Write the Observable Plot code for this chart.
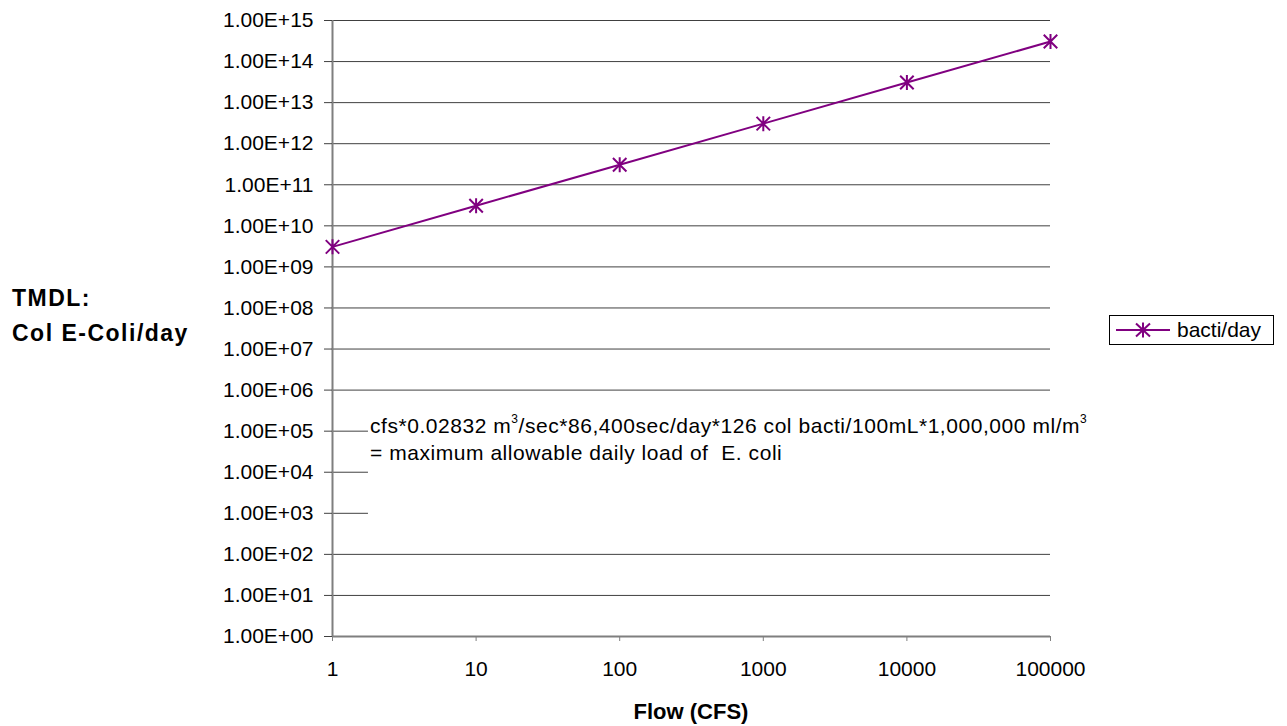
<!DOCTYPE html>
<html><head><meta charset="utf-8">
<script src="https://cdn.jsdelivr.net/npm/d3@7"></script>
<script src="https://cdn.jsdelivr.net/npm/@observablehq/plot@0.6"></script>
<style>
body{margin:0;background:#fff;font-family:"Liberation Sans",Arial,sans-serif;}
#wrap{position:relative;width:1287px;height:726px;overflow:hidden;}
#wrap svg.plot{position:absolute;left:0;top:0;}
.ov{position:absolute;color:#000;white-space:nowrap;}
#ytitle{left:12px;top:281px;font-weight:bold;font-size:23px;line-height:35px;letter-spacing:1.5px;}
#xtitle{left:541px;width:300px;text-align:center;top:699px;font-weight:bold;font-size:22px;line-height:26px;}
#note{font-size:21px;line-height:27px;letter-spacing:0.55px;}
#note sup{font-size:12px;vertical-align:10px;line-height:0;}
#legend{left:1109px;top:315px;width:163px;height:28px;border:1px solid #000;background:#fff;font-size:21px;}
#legend svg{position:absolute;left:6px;top:6px;}
#legend span{position:absolute;left:67px;top:2px;}
</style></head><body>
<div id="wrap"></div>
<script>
const flowCfs = [1, 10, 100, 1000, 10000, 100000];
const bactiPerDay = [3.08e9, 3.08e10, 3.08e11, 3.08e12, 3.08e13, 3.08e14];
const yTicks = [1e0,1e1,1e2,1e3,1e4,1e5,1e6,1e7,1e8,1e9,1e10,1e11,1e12,1e13,1e14,1e15];
const xTicks = [1, 10, 100, 1000, 10000, 100000];
const seriesName = "bacti/day";
const yTitleLines = ["TMDL:", "Col E-Coli/day"];
const xTitle = "Flow (CFS)";
const noteLine1 = 'cfs*0.02832 m<sup>3</sup>/sec*86,400sec/day*126 col bacti/100mL*1,000,000 ml/m<sup>3</sup>';
const noteLine2 = '= maximum allowable daily load of&nbsp; E. coli';
const noteBox = {x1: 1.78, x2: 100000, y1: Math.pow(10, 2.6), y2: Math.pow(10, 5.5)};

const color = "#800080";
const data = flowCfs.map((f, i) => ({flow: f, load: bactiPerDay[i]}));

const starSymbol = {
  draw(ctx, size) {
    const r = Math.sqrt(size / Math.PI);
    const k = r * 0.9;
    ctx.moveTo(0, -r); ctx.lineTo(0, r);
    ctx.moveTo(-k, -k); ctx.lineTo(k, k);
    ctx.moveTo(-k, k); ctx.lineTo(k, -k);
  }
};

const fmtY = d => "1.00E+" + String(Math.round(Math.log10(d))).padStart(2, "0");

const chart = Plot.plot({
  width: 1287, height: 726,
  marginLeft: 332, marginRight: 237, marginTop: 20, marginBottom: 90,
  style: {fontFamily: '"Liberation Sans", Arial, sans-serif', fontSize: "21px", color: "#000", background: "#fff"},
  x: {type: "log", domain: [1, 100000]},
  y: {type: "log", domain: [1, 1e15]},
  marks: [
    Plot.ruleY(yTicks, {stroke: "#404040", strokeWidth: 1, strokeOpacity: 1}),
    Plot.rect([noteBox], {x1: "x1", x2: "x2", y1: "y1", y2: "y2", fill: "white"}),
    Plot.ruleY([1], {stroke: "#7f7f7f", strokeWidth: 2}),
    Plot.ruleX([1], {stroke: "#7f7f7f", strokeWidth: 2}),
    Plot.axisY({ticks: yTicks, tickFormat: fmtY, tickSize: 8, tickPadding: 11, label: null, stroke: "#404040", fontSize: 21}),
    Plot.axisX({ticks: xTicks, tickFormat: d => String(d), tickSize: 5, tickPadding: 20, label: null, stroke: "#7f7f7f", fontSize: 21}),
    Plot.line(data, {x: "flow", y: "load", stroke: color, strokeWidth: 2}),
    Plot.dot(data, {x: "flow", y: "load", symbol: starSymbol, r: 7.5, stroke: color, strokeWidth: 2, fill: "none"})
  ]
});
chart.classList.add("plot");
const wrap = document.getElementById("wrap");
wrap.appendChild(chart);

const sx = chart.scale("x"), sy = chart.scale("y");

const yt = document.createElement("div");
yt.className = "ov"; yt.id = "ytitle";
yt.innerHTML = yTitleLines.join("<br>");
wrap.appendChild(yt);

const xt = document.createElement("div");
xt.className = "ov"; xt.id = "xtitle";
xt.textContent = xTitle;
wrap.appendChild(xt);

const note = document.createElement("div");
note.className = "ov"; note.id = "note";
note.style.left = (sx.apply(noteBox.x1) + 2) + "px";
note.style.top = (sy.apply(noteBox.y2) + 2) + "px";
note.innerHTML = noteLine1 + "<br>" + noteLine2;
wrap.appendChild(note);

const leg = document.createElement("div");
leg.className = "ov"; leg.id = "legend";
leg.innerHTML = `<svg width="56" height="16"><line x1="0" y1="8" x2="54" y2="8" stroke="${color}" stroke-width="2"/>
<path d="M27,0.5V15.5M20,1.5L34,14.5M20,14.5L34,1.5" stroke="${color}" stroke-width="2" fill="none"/></svg><span>${seriesName}</span>`;
wrap.appendChild(leg);
</script>
</body></html>
